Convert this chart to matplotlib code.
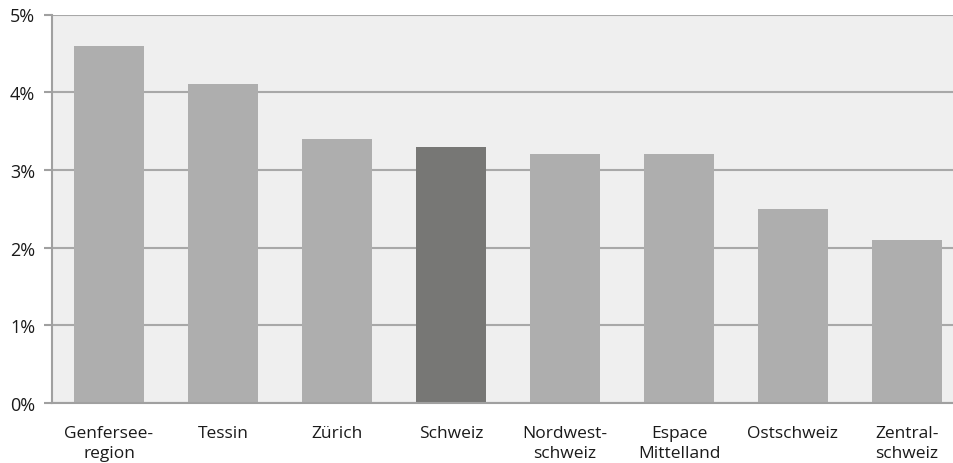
import matplotlib
matplotlib.use("Agg")
import matplotlib.pyplot as plt
from matplotlib.ticker import FuncFormatter

categories = ["Genfersee-\nregion", "Tessin", "Zürich", "Schweiz", "Nordwest-\nschweiz",
              "Espace\nMittelland", "Ostschweiz", "Zentral-\nschweiz"]
values = [4.6, 4.1, 3.4, 3.3, 3.2, 3.2, 2.5, 2.1]
highlight = "Schweiz"

plt.rcParams['font.family'] = ['Open Sans', 'DejaVu Sans']

fig = plt.figure(figsize=(9.54, 4.64), dpi=100)
ax = fig.add_axes([52/954, 1-404/464, 912/954, (404-15.5)/464])
ax.set_facecolor("#EFEFEF")

colors = ["#777775" if c == highlight else "#AEAEAE" for c in categories]
x = list(range(len(categories)))
ax.bar(x, values, width=0.61, color=colors, zorder=3)

ax.set_xlim(-0.5, len(categories) - 0.5)
ax.set_ylim(0, 5)
ax.set_yticks([0, 1, 2, 3, 4, 5])
ax.yaxis.set_major_formatter(FuncFormatter(lambda v, p: f"{int(v)}%"))
ax.grid(axis="y", color="#A8A8A8", linewidth=1.5, zorder=1)
ax.set_xticks(x)
ax.set_xticklabels(categories, fontsize=12.5, color="#1A1A1A", linespacing=1.3)
ax.tick_params(axis="x", length=0, pad=16)
ax.tick_params(axis="y", length=6, width=1.5, color="#A0A0A0", labelsize=13,
               labelcolor="#1A1A1A", pad=6)

for s in ["top", "right"]:
    ax.spines[s].set_visible(False)
for s in ["left", "bottom"]:
    ax.spines[s].set_color("#A0A0A0")
    ax.spines[s].set_linewidth(1.5)
    ax.spines[s].set_zorder(4)

fig.savefig("out.png", dpi=100)
